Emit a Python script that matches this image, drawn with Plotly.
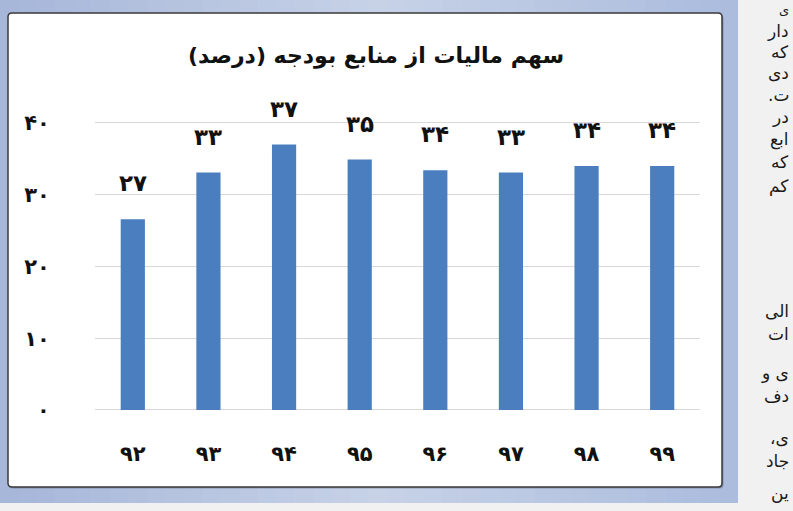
import plotly.graph_objects as go

# ---- data ----
years = ['۹۲', '۹۳', '۹۴', '۹۵', '۹۶', '۹۷', '۹۸', '۹۹']
shares = [26.6, 33.1, 37.0, 34.9, 33.4, 33.1, 34.0, 34.0]
value_labels = ['۲۷', '۳۳', '۳۷', '۳۵', '۳۴', '۳۳', '۳۴', '۳۴']
y_tickvals = [0, 10, 20, 30, 40]
y_ticktext = ['۰', '۱۰', '۲۰', '۳۰', '۴۰']
title_text = 'سهم مالیات از منابع بودجه (درصد)'
side_text = ['ی', 'دار', 'که', 'دی', 'ت.\u200f', 'در', 'ابع', 'که', 'کم',
             'الی', 'ات', 'ی و', 'دف', 'ی،\u200f', 'جاد', 'ین']
side_text_y = [0, 31, 52, 73, 95, 117, 139, 162, 186,
               311, 334, 373, 396, 438, 461, 493]

W, H = 793, 511
FONT = 'DejaVu Sans'
Y_TOP = 40.3
PX_PER_UNIT = (410 - 123) / 40.0


def px(x):
    return x / W


def py(y):
    return 1 - y / H


fig = go.Figure()
fig.add_trace(go.Bar(
    x=years, y=shares,
    marker=dict(color='#4a7ebe', line=dict(width=0)),
    hoverinfo='x+y'
))

shapes = []
# blue frame gradient (horizontal bands)
stops = [(0, (166, 182, 217)), (380, (199, 210, 231)), (738, (170, 187, 221))]


def col_at(x):
    for (x0, c0), (x1, c1) in zip(stops[:-1], stops[1:]):
        if x0 <= x <= x1:
            t = (x - x0) / (x1 - x0)
            return tuple(int(round(a + (b - a) * t)) for a, b in zip(c0, c1))
    return stops[-1][1]


nb = 40
bw = 738 / nb
for i in range(nb):
    x0 = i * bw
    x1 = (i + 1) * bw + 0.6
    c = col_at(x0 + bw / 2)
    shapes.append(dict(type='rect', xref='paper', yref='paper',
                       x0=px(x0), x1=px(min(x1, 738)), y0=py(503), y1=py(0),
                       fillcolor='rgb(%d,%d,%d)' % c, line=dict(width=0),
                       layer='below'))


def rounded(x0, y0, x1, y1, r):
    return ('M %f,%f L %f,%f Q %f,%f %f,%f L %f,%f Q %f,%f %f,%f '
            'L %f,%f Q %f,%f %f,%f L %f,%f Q %f,%f %f,%f Z') % (
        px(x0 + r), py(y0), px(x1 - r), py(y0),
        px(x1), py(y0), px(x1), py(y0 + r),
        px(x1), py(y1 - r), px(x1), py(y1), px(x1 - r), py(y1),
        px(x0 + r), py(y1), px(x0), py(y1), px(x0), py(y1 - r),
        px(x0), py(y0 + r), px(x0), py(y0), px(x0 + r), py(y0))


# shadow
shapes.append(dict(type='path', xref='paper', yref='paper',
                   path=rounded(9.5, 14.5, 723.5, 488.5, 4),
                   fillcolor='rgba(60,60,70,0.35)', line=dict(width=0),
                   layer='below'))
# white box
shapes.append(dict(type='path', xref='paper', yref='paper',
                   path=rounded(8, 13, 722, 487, 4),
                   fillcolor='white', line=dict(color='#3a3a3a', width=1.5),
                   layer='below'))

annotations = []
for x, v, t in zip(years, shares, value_labels):
    annotations.append(dict(x=x, y=v, xref='x', yref='y', text=t,
                            showarrow=False, yanchor='middle', yshift=36,
                            font=dict(family=FONT, size=23, color='#111',
                                      weight=700)))

for i, (t, yy) in enumerate(zip(side_text, side_text_y)):
    first = (i == 0)
    annotations.append(dict(x=px(791), y=py(yy), xref='paper', yref='paper',
                            text=t, showarrow=False, xanchor='right',
                            yanchor='top' if first else 'middle',
                            font=dict(family=FONT, size=13 if first else 17,
                                      color='#1a1a1a')))

plot_top = 410 - Y_TOP * PX_PER_UNIT

fig.update_layout(
    width=W, height=H, autosize=False,
    margin=dict(l=0, r=0, t=0, b=0, pad=0, autoexpand=False),
    paper_bgcolor='#f1f1f1',
    plot_bgcolor='rgba(0,0,0,0)',
    showlegend=False,
    bargap=0.68,
    title=dict(text=title_text, x=px(376), y=py(55), xanchor='center',
               yanchor='middle', xref='paper', yref='paper',
               font=dict(family=FONT, size=22, color='#111', weight=700)),
    xaxis=dict(domain=[px(95), px(700)], type='category',
               showgrid=False, zeroline=False, showline=False,
               ticks='outside', ticklen=25, tickcolor='rgba(0,0,0,0)',
               tickfont=dict(family=FONT, size=21, color='#111', weight=700)),
    yaxis=dict(domain=[py(410), py(plot_top)], range=[0, Y_TOP],
               tickvals=y_tickvals, ticktext=y_ticktext,
               showgrid=True, gridcolor='#d9d9d9', gridwidth=1,
               zeroline=True, zerolinecolor='#d9d9d9', zerolinewidth=1,
               showline=False,
               ticks='outside', ticklen=40, tickcolor='rgba(0,0,0,0)',
               tickfont=dict(family=FONT, size=21, color='#111', weight=700)),
    shapes=shapes,
    annotations=annotations,
)

fig.write_html('out.html')
